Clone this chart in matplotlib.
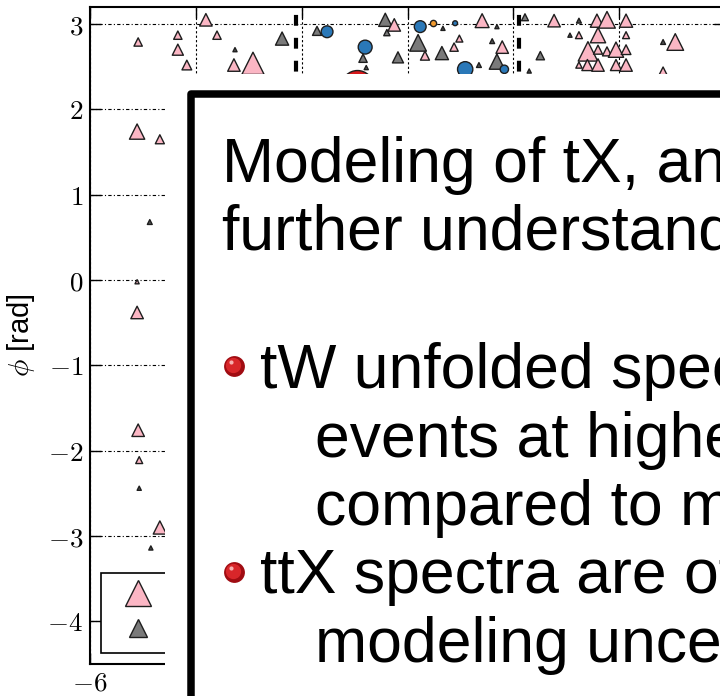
import matplotlib
matplotlib.use('Agg')
import matplotlib.pyplot as plt
from matplotlib.lines import Line2D
from matplotlib.patches import Rectangle
from matplotlib.ticker import FuncFormatter, MultipleLocator

plt.rcParams['mathtext.fontset'] = 'cm'
plt.rcParams['font.family'] = ['Liberation Sans', 'DejaVu Sans']

# pink triangles (first sample)
pink_x = [-5.09, -4.34, -4.34, -4.17, -3.81, -3.60, -3.28, -2.92, -0.25, 1.41,
          0.33, 0.98, 0.88, 1.79, 2.77, 3.58, 3.77, 4.13, 3.24, 3.60,
          4.13, 3.41, 3.60, 3.77, 3.94, 4.13, 3.24, 3.40, 3.60, 3.94,
          4.13, 5.06, 4.83, -5.11, -4.68, -5.11, -5.11, -5.09, -5.07, -4.68]
pink_y = [2.79, 2.87, 2.70, 2.52, 3.05, 2.87, 2.52, 2.54, 2.99, 3.04,
          2.63, 2.83, 2.73, 2.73, 3.04, 3.04, 3.05, 3.04, 2.87, 2.87,
          2.87, 2.68, 2.70, 2.68, 2.70, 2.70, 2.52, 2.52, 2.52, 2.52,
          2.52, 2.79, 2.44, 1.74, 1.65, -0.02, -0.38, -1.76, -2.11, -2.90]
pink_ms = [6, 6, 8, 7, 9, 6, 9, 16, 9, 10,
           6.5, 5, 6, 9, 9, 9.5, 12, 9.5, 5, 11,
           5, 14, 6.5, 6.5, 11, 7, 4.5, 8, 9, 8,
           9, 12, 7, 11, 6.5, 3, 9, 9, 5, 9.5]

# gray triangles (second sample)
gray_x = [-2.37, -1.71, -0.42, -0.39, -0.84, -0.18, 0.20, 0.65, 1.69, 2.22, 2.51]
gray_y = [2.83, 2.92, 3.05, 2.90, 2.60, 2.61, 2.78, 2.66, 2.56, 3.08, 2.63]
gray_ms = [9.5, 6.5, 9.5, 4.5, 6, 8, 12, 9.5, 11, 5, 6]

# very small entries of the second sample
dot_x = [-3.26, -0.78, 0.67, 1.69, 1.60, 1.35, 3.24, 3.07, 2.30, 4.83, -4.87, -5.07, -4.85]
dot_y = [2.70, 2.49, 2.95, 2.97, 2.80, 2.52, 3.04, 2.87, 2.45, 2.79, 0.68, -2.44, -3.14]
dot_ms = [3, 3, 3, 3, 3.5, 3.5, 3.5, 3, 3, 3.5, 3.5, 3, 3]

# circles
blue_x = [-1.52, -0.80, 0.24, 0.90, 1.09, 1.83]
blue_y = [2.91, 2.73, 2.97, 3.01, 2.47, 2.47]
blue_ms = [8.5, 10, 8.5, 3.5, 11, 6]
orange_x, orange_y, orange_ms = [0.48], [3.01], [4.5]
red_x, red_y, red_ms = [-0.95], [2.27], [23]

# phi boundaries
cut_x = [-2.1, 2.1]

title_lines = ['Modeling of tX, and', 'further understanding']
bullets = [['tW unfolded spectra', 'events at higher', 'compared to models'],
           ['ttX spectra are of', 'modeling uncertainties']]

edge = '#1e1e1e'

fig = plt.figure(figsize=(7.2, 6.96), dpi=100)
ax = fig.add_axes([90 / 720, 32 / 696, 635 / 720, 657 / 696])


def draw_series(xs, ys, sizes, marker, color):
    ax.scatter(xs, ys, s=[m ** 2 for m in sizes], marker=marker, c=color,
               edgecolors=edge, linewidths=1.0, zorder=3)


draw_series(red_x, red_y, red_ms, 'o', '#d7191c')
draw_series(gray_x, gray_y, gray_ms, '^', '#7a7a7a')
draw_series(pink_x, pink_y, pink_ms, '^', '#fbb6c4')
draw_series(blue_x, blue_y, blue_ms, 'o', '#2a78b8')
draw_series(orange_x, orange_y, orange_ms, 'o', '#f29a2e')
draw_series(dot_x, dot_y, dot_ms, '^', '#555555')

for xc in cut_x:
    ax.plot([xc, xc], [3.2, -4.5], color='black', lw=3,
            linestyle=(3.6, (2.6, 2.9)), zorder=2)

ax.set_xlim(-6, 6)
ax.set_ylim(-4.5, 3.2)
ax.xaxis.set_major_locator(MultipleLocator(2))
ax.yaxis.set_major_locator(MultipleLocator(1))
fmt = FuncFormatter(lambda v, _: r'$%d$' % round(v))
ax.xaxis.set_major_formatter(fmt)
ax.yaxis.set_major_formatter(fmt)
ax.tick_params(direction='in', length=8, width=1.0, top=True, right=True,
               labelsize=19.5, pad=5)
ax.xaxis.grid(True, color='black', lw=0.8, linestyle=(0, (2, 2)))
ax.yaxis.grid(True, color='black', lw=0.8, linestyle=(0, (3, 2, 1, 2)))
ax.set_axisbelow(True)
for sp in ax.spines.values():
    sp.set_linewidth(1.5)

ax.set_ylabel(r'$\phi$ [rad]', fontsize=21)
ax.yaxis.set_label_coords(-0.083, 0.5)

handles = [Line2D([], [], ls='none', marker='^', ms=19, mfc='#fbb6c4', mec=edge, mew=1.0),
           Line2D([], [], ls='none', marker='^', ms=13, mfc='#7a7a7a', mec=edge, mew=1.0)]
leg = ax.legend(handles, ['unfolded', 'simulation'], loc='upper left',
                bbox_to_anchor=(0.0173, 0.1385), borderaxespad=0, fontsize=19,
                borderpad=0.4, labelspacing=0.42, handlelength=2.0,
                handletextpad=0.5, fancybox=False, framealpha=1)
leg.get_frame().set_edgecolor('black')
leg.get_frame().set_linewidth(1.2)

# text panel laid over the plot, in pixel units
cover = fig.add_axes([0, 0, 1, 1], zorder=5)
cover.set_xlim(0, 720)
cover.set_ylim(696, 0)
cover.axis('off')
cover.add_patch(Rectangle((165, 74), 700, 700, fc='white', ec='none'))
cover.add_patch(Rectangle((191, 93.5), 700, 700, fc='white', ec='black',
                          lw=5.4, joinstyle='round'))

text_kw = dict(fontsize=45, va='baseline', ha='left', color='black')
base = 182
for line in title_lines:
    cover.text(222, base, line, **text_kw)
    base += 68
base = 388
for item in bullets:
    cover.scatter([234], [base - 22], s=15 ** 2, c='#a00c12', lw=0, zorder=3)
    cover.scatter([233], [base - 23], s=11 ** 2, c='#d8262a', lw=0, zorder=3)
    cover.scatter([231], [base - 26], s=3 ** 2, c='#f6b0b0', lw=0, zorder=3)
    cover.text(260, base, item[0], **text_kw)
    base += 68.5
    for line in item[1:]:
        cover.text(315, base, line, **text_kw)
        base += 68.5

fig.savefig('out.png', dpi=100)
